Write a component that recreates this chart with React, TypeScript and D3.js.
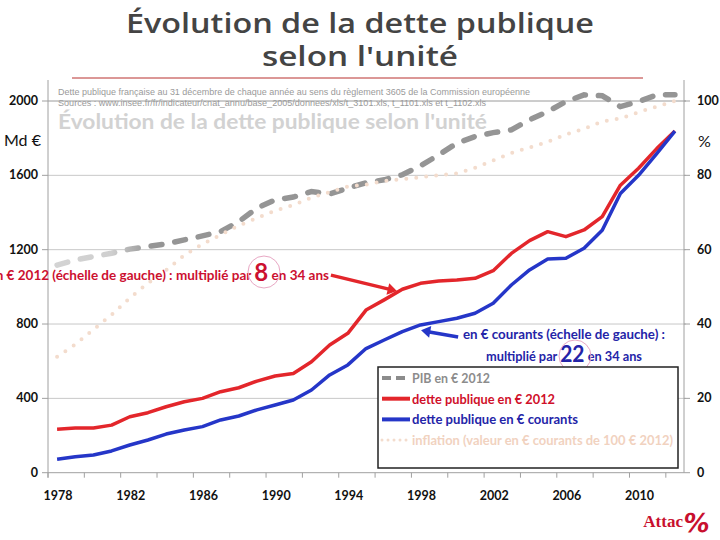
import React from "react";
import * as d3 from "d3";

const years = d3.range(1978, 2013);
const debtCurrent = [72, 86, 95, 117, 149, 176, 208, 230, 248, 284, 305, 338, 364, 391, 445, 526, 580, 668, 714, 759, 795, 813, 831, 858, 912, 1010, 1091, 1150, 1154, 1208, 1305, 1502, 1600, 1717, 1838];
const debt2012 = [234, 240, 240, 256, 301, 323, 355, 382, 400, 436, 457, 493, 520, 534, 597, 687, 750, 875, 930, 987, 1019, 1032, 1037, 1046, 1087, 1180, 1249, 1297, 1270, 1306, 1378, 1547, 1638, 1744, 1838];
const gdp2012 = [1117, 1145, 1163, 1181, 1203, 1217, 1231, 1253, 1274, 1297, 1351, 1424, 1468, 1483, 1513, 1500, 1531, 1560, 1576, 1603, 1651, 1710, 1773, 1809, 1830, 1845, 1899, 1943, 1997, 2033, 2028, 1970, 1997, 2033, 2033];
const inflation = [31.2, 34.5, 38.5, 42.5, 47, 51, 54.5, 58.5, 61.5, 64, 66.5, 68.5, 70.5, 72, 74, 75.5, 77, 77.5, 78.5, 79, 79.5, 80, 80.5, 82, 84, 86, 87.5, 89, 91, 92.5, 94.5, 95.3, 97, 98.5, 100];
const leftTicks = [0, 400, 800, 1200, 1600, 2000];
const rightTicks = [0, 20, 40, 60, 80, 100];
const yearLabels = [1978, 1982, 1986, 1990, 1994, 1998, 2002, 2006, 2010];

const legendItems = [
  { label: "PIB en € 2012", color: "#8c8c8c", text: "#8c8c8c", dash: "9 5", width: 4, cap: "butt", len: 78 },
  { label: "dette publique en € 2012", color: "#e3262b", text: "#d0102a", dash: "", width: 4, cap: "butt", len: 143 },
  { label: "dette publique en € courants", color: "#2536c8", text: "#2424a8", dash: "", width: 4, cap: "butt", len: 166 },
  { label: "inflation (valeur en € courants de 100 € 2012)", color: "#f3dccd", text: "#f1d2bf", dash: "0 6", width: 3, cap: "round", len: 261 },
];

const FONT = "Lato, 'Open Sans', sans-serif";

export default function App() {
  const W = 720, H = 540;
  const x0 = 48, x1 = 684;
  const yTop = 101, yBot = 472.7;
  const xb = d3.scaleBand<number>().domain(years).range([x0, x1]).padding(0);
  const bw = xb.bandwidth();
  const xc = (yr: number) => (xb(yr) as number) + bw / 2;
  const xf = (yr: number) => x0 + bw / 2 + (yr - 1978) * bw;
  const yL = d3.scaleLinear().domain([0, 2000]).range([yBot, yTop]);
  const yR = d3.scaleLinear().domain([0, 100]).range([yBot, yTop]);

  const lineL = (vals: number[]) =>
    d3.line<number>().x((_, i) => xc(years[i])).y((d) => yL(d)).curve(d3.curveLinear)(vals) as string;
  const lineR = (vals: number[]) =>
    d3.line<number>().x((_, i) => xc(years[i])).y((d) => yR(d))(vals) as string;

  const tickBounds = d3.range(0, years.length + 1, 2).map((k) => x0 + k * bw);

  const redArrow = { from: [xf(1993.07), yL(1063)], to: [xf(1996.7), yL(977)] };
  const blueArrow = { from: [xf(2000.07), yL(730)], to: [xf(1998.03), yL(767)] };

  const arrowHead = (from: number[], to: number[], size: number) => {
    const ang = Math.atan2(to[1] - from[1], to[0] - from[0]);
    const a1 = ang + Math.PI * 0.82, a2 = ang - Math.PI * 0.82;
    return `M${to[0]},${to[1]} L${to[0] + size * Math.cos(a1)},${to[1] + size * Math.sin(a1)} L${to[0] + size * Math.cos(a2)},${to[1] + size * Math.sin(a2)} Z`;
  };

  return (
    <div style={{ position: "absolute", left: 0, top: 0, width: W, height: H, background: "#fff" }}>
      <svg width={W} height={H} style={{ display: "block", overflow: "hidden" }}>
        <defs>
          <linearGradient id="gdpGrad" gradientUnits="userSpaceOnUse" x1={x0} x2={x1} y1={0} y2={0}>
            <stop offset="0" stopColor="#d4d4d4" />
            <stop offset="0.1" stopColor="#cfcfcf" />
            <stop offset="0.16" stopColor="#959595" />
            <stop offset="1" stopColor="#959595" />
          </linearGradient>
        </defs>
        <rect x={0} y={0} width={W} height={H} fill="#fff" />
        {/* Title */}
        <text x={360} y={33} textAnchor="middle" fontFamily="'Open Sans', sans-serif" fontWeight={600} fontSize={27} fill="#444" textLength={468} lengthAdjust="spacingAndGlyphs">Évolution de la dette publique</text>
        <text x={360} y={66} textAnchor="middle" fontFamily="'Open Sans', sans-serif" fontWeight={600} fontSize={27} fill="#444" textLength={196} lengthAdjust="spacingAndGlyphs">selon l'unité</text>
        <line x1={72} x2={643} y1={78} y2={78} stroke="#b8312f" strokeWidth={1} />

        {/* faint background texts */}
        <text x={58} y={95} fontFamily="'Liberation Sans', Arial, sans-serif" fontSize={9} fill="#9a9a9a" textLength={472} lengthAdjust="spacingAndGlyphs">Dette publique française au 31 décembre de chaque année au sens du règlement 3605 de la Commission européenne</text>
        <text x={58} y={106} fontFamily="'Liberation Sans', Arial, sans-serif" fontSize={9} fill="#9a9a9a" textLength={428} lengthAdjust="spacingAndGlyphs">Sources : www.insee.fr/fr/indicateur/cnat_annu/base_2005/donnees/xls/t_3101.xls, t_1101.xls et t_1102.xls</text>
        <text x={58} y={129} fontFamily={FONT} fontWeight={700} fontSize={21} fill="#d2d2d2" textLength={429} lengthAdjust="spacingAndGlyphs">Évolution de la dette publique selon l'unité</text>

        {/* gridlines */}
        {leftTicks.filter((t) => t > 0).map((t) => (
          <line key={"g" + t} x1={x0} x2={x1 + 2} y1={yL(t)} y2={yL(t)} stroke={t === 2000 ? "#9a9a9a" : "#c8c8c8"} strokeWidth={1} />
        ))}

        {/* axes */}
        <line x1={x0} x2={x0} y1={80} y2={yBot + 5} stroke="#a0a0a0" strokeWidth={1} />
        <line x1={x1} x2={x1} y1={80} y2={yBot} stroke="#a0a0a0" strokeWidth={1} />
        <line x1={x0} x2={x1} y1={yBot} y2={yBot} stroke="#a0a0a0" strokeWidth={1} />
        {leftTicks.map((t) => (
          <line key={"lt" + t} x1={x0 - 6} x2={x0} y1={yL(t)} y2={yL(t)} stroke="#a0a0a0" />
        ))}
        {rightTicks.map((t) => (
          <line key={"rt" + t} x1={x1} x2={x1 + 6} y1={yR(t)} y2={yR(t)} stroke="#a0a0a0" />
        ))}
        {tickBounds.map((bx, i) => (
          <line key={"bt" + i} x1={bx} x2={bx} y1={yBot} y2={yBot + 5} stroke="#a0a0a0" />
        ))}
        {leftTicks.map((t) => (
          <text key={"ll" + t} x={38} y={yL(t) + 4} textAnchor="end" fontFamily={FONT} fontWeight={700} fontSize={12.5} fill="#111">{t}</text>
        ))}
        {rightTicks.map((t) => (
          <text key={"rl" + t} x={697} y={yR(t) + 4} textAnchor="start" fontFamily={FONT} fontWeight={700} fontSize={12.5} fill="#111">{t}</text>
        ))}
        <text x={4} y={146} fontFamily={FONT} fontWeight={400} fontSize={16} fill="#111">Md €</text>
        <text x={698} y={147} fontFamily={FONT} fontWeight={400} fontSize={16} fill="#111">%</text>
        {yearLabels.map((yr) => (
          <text key={"yl" + yr} x={xc(yr) + 1} y={500} textAnchor="middle" fontFamily={FONT} fontWeight={700} fontSize={12.5} fill="#111">{yr}</text>
        ))}

        {/* series */}
        <path d={lineL(gdp2012)} fill="none" stroke="url(#gdpGrad)" strokeWidth={5.5} strokeDasharray="11 13" strokeLinecap="round" />
        <path d={lineR(inflation)} fill="none" stroke="#f3dccd" strokeWidth={4} strokeDasharray="0 10" strokeLinecap="round" />
        <path d={lineL(debt2012)} fill="none" stroke="#e3262b" strokeWidth={3.5} strokeLinejoin="round" />
        <path d={lineL(debtCurrent)} fill="none" stroke="#2536c8" strokeWidth={3.5} strokeLinejoin="round" />

        {/* red annotation */}
        <text x={329} y={280} textAnchor="end" fontFamily={FONT} fontWeight={700} fontSize={13.5} fill="#cc1030">
          dette publique en € 2012 (échelle de gauche) : multiplié par <tspan fontSize={24} dy={1}>8</tspan><tspan dy={-1}> en 34 ans</tspan>
        </text>
        <circle cx={264} cy={272} r={16} fill="none" stroke="#e8a8c4" strokeWidth={1} />
        <line x1={redArrow.from[0]} y1={redArrow.from[1]} x2={redArrow.to[0] - 4} y2={redArrow.to[1] - 1} stroke="#e3262b" strokeWidth={3.5} />
        <path d={arrowHead(redArrow.from, redArrow.to, 11)} fill="#e3262b" />

        {/* blue annotation */}
        <text x={463} y={339} fontFamily={FONT} fontWeight={700} fontSize={14} fill="#2424a8" textLength={202} lengthAdjust="spacingAndGlyphs">en € courants (échelle de gauche) :</text>
        <text x={486} y={361} fontFamily={FONT} fontWeight={700} fontSize={14} fill="#2424a8" textLength={156} lengthAdjust="spacingAndGlyphs">
          multiplié par <tspan fontSize={23} dy={1}>22</tspan><tspan dy={-1}> en 34 ans</tspan>
        </text>
        <circle cx={575} cy={356} r={16} fill="none" stroke="#e8a8c4" strokeWidth={1} />
        <line x1={blueArrow.from[0]} y1={blueArrow.from[1]} x2={blueArrow.to[0] + 4} y2={blueArrow.to[1] + 1} stroke="#2536c8" strokeWidth={3.5} />
        <path d={arrowHead(blueArrow.from, blueArrow.to, 11)} fill="#2536c8" />

        {/* legend */}
        <rect x={378} y={367} width={300} height={101} fill="#fff" stroke="#222" strokeWidth={1.5} />
        {legendItems.map((it, i) => {
          const ly = 378 + i * 20.7;
          return (
            <g key={it.label}>
              <line x1={382} x2={410} y1={ly} y2={ly} stroke={it.color} strokeWidth={it.width} strokeDasharray={it.dash || undefined} strokeLinecap={it.cap as any} />
              <text x={412} y={ly + 5} fontFamily={FONT} fontWeight={700} fontSize={13.5} fill={it.text} textLength={it.len} lengthAdjust="spacingAndGlyphs">{it.label}</text>
            </g>
          );
        })}

        {/* logo */}
        <text x={683} y={527} textAnchor="end" fontFamily="'Liberation Serif', serif" fontWeight={700} fontSize={17} fill="#c8102e">Attac</text>
        <text x={687} y={532} fontFamily="'DejaVu Sans', sans-serif" fontWeight={700} fontSize={26} fill="#c8102e" transform="skewX(-8) translate(70,0)">%</text>
      </svg>
    </div>
  );
}
